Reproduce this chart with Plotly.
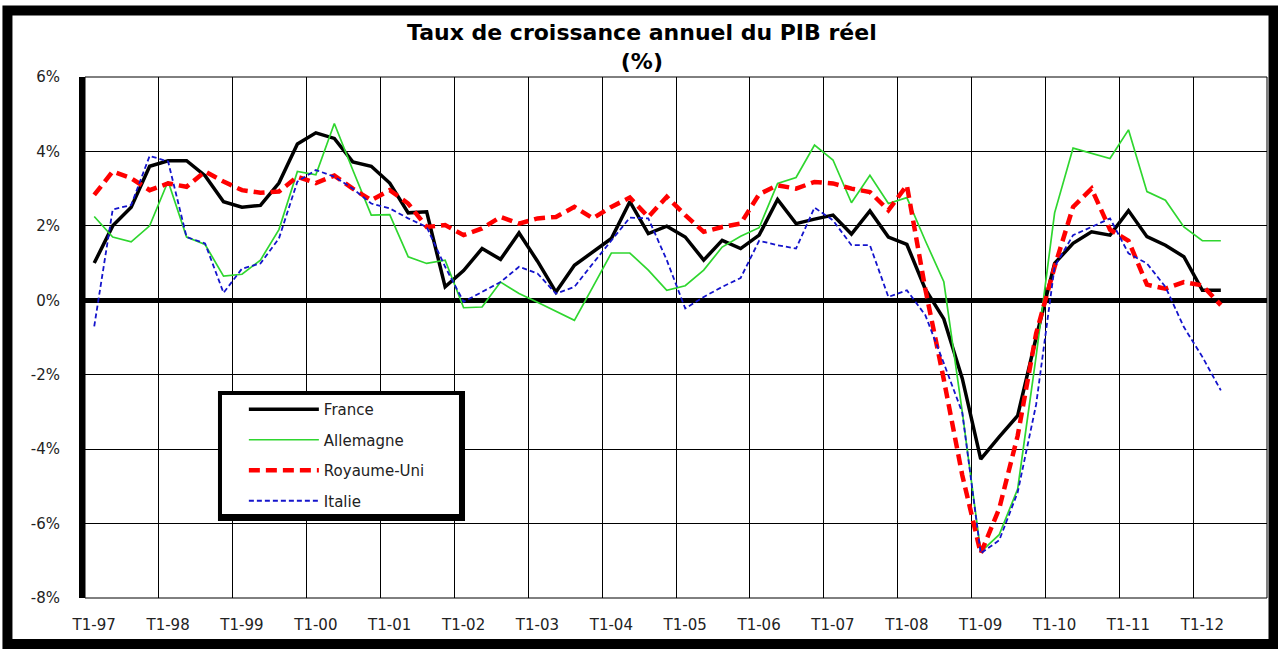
import plotly.graph_objects as go

# trimestres T1-97 ... T4-12 (l'axe va jusqu'a fin 2012)
annees = ['97', '98', '99', '00', '01', '02', '03', '04',
          '05', '06', '07', '08', '09', '10', '11', '12']
trimestres = ['T%d-%s' % (t, a) for a in annees for t in (1, 2, 3, 4)]
etiquettes_x = ['T1-' + a for a in annees]

# glissement annuel du PIB reel, en %
france = [1.0, 2.0, 2.5, 3.6, 3.75, 3.75, 3.35, 2.65, 2.5, 2.55, 3.15, 4.2,
          4.5, 4.35, 3.72, 3.6, 3.15, 2.35, 2.38, 0.36, 0.8, 1.39, 1.1, 1.81,
          1.05, 0.22, 0.94, 1.3, 1.66, 2.65, 1.79, 1.99, 1.7, 1.08, 1.61, 1.39,
          1.75, 2.71, 2.06, 2.18, 2.29, 1.78, 2.4, 1.7, 1.5, 0.3, -0.5, -2.1,
          -4.27, -3.67, -3.1, -1.0, 0.99, 1.53, 1.84, 1.75, 2.41, 1.71, 1.48, 1.17,
          0.27, 0.27]
allemagne = [2.25, 1.7, 1.57, 2.0, 3.2, 1.7, 1.5, 0.65, 0.7, 1.08, 1.9, 3.46,
             3.37, 4.75, 3.5, 2.29, 2.3, 1.17, 0.99, 1.08, -0.2, -0.18, 0.49, 0.18,
             -0.05, -0.29, -0.54, 0.36, 1.27, 1.27, 0.81, 0.27, 0.39, 0.81, 1.43, 1.72,
             1.95, 3.14, 3.3, 4.17, 3.77, 2.62, 3.36, 2.6, 2.76, 1.6, 0.5, -3.0,
             -6.76, -6.3, -5.07, -1.5, 2.35, 4.09, 3.95, 3.81, 4.58, 2.92, 2.69, 1.97,
             1.6, 1.6]
royaume_uni = [2.83, 3.46, 3.28, 2.96, 3.14, 3.05, 3.46, 3.19, 2.96, 2.89, 2.92, 3.32,
               3.15, 3.35, 3.0, 2.69, 2.96, 2.6, 1.97, 2.02, 1.75, 1.93, 2.24, 2.06,
               2.2, 2.24, 2.51, 2.2, 2.51, 2.76, 2.24, 2.78, 2.29, 1.84, 1.97, 2.06,
               2.85, 3.09, 3.0, 3.18, 3.14, 3.0, 2.91, 2.42, 3.09, 0.3, -2.13, -4.7,
               -6.8, -5.6, -3.64, -0.89, 0.9, 2.51, 3.0, 1.9, 1.6, 0.42, 0.31, 0.49,
               0.4, -0.13]
italie = [-0.7, 2.44, 2.56, 3.88, 3.73, 1.7, 1.53, 0.2, 0.85, 0.99, 1.66, 3.19,
          3.5, 3.32, 3.0, 2.6, 2.47, 2.2, 1.97, 0.9, -0.04, 0.22, 0.49, 0.9,
          0.72, 0.18, 0.36, 0.99, 1.61, 2.22, 2.2, 1.08, -0.22, 0.09, 0.36, 0.6,
          1.6, 1.48, 1.39, 2.49, 2.15, 1.48, 1.48, 0.09, 0.27, -0.4, -1.69, -3.02,
          -6.8, -6.45, -5.16, -2.8, 0.9, 1.75, 1.97, 2.2, 1.26, 0.99, 0.36, -0.72,
          -1.52, -2.42]

graduations_y = [-8, -6, -4, -2, 0, 2, 4, 6]
etiquettes_y = ['-8%', '-6%', '-4%', '-2%', '0%', '2%', '4%', '6%']

series = [
    ('France', france, dict(color='black', width=3.5)),
    ('Allemagne', allemagne, dict(color='#2fd62f', width=1.7)),
    ('Royaume-Uni', royaume_uni, dict(color='#ff0000', width=4.5, dash='11px,6px')),
    ('Italie', italie, dict(color='#1414cc', width=1.8, dash='5px,3px')),
]

fig = go.Figure()
for nom, valeurs, ligne in series:
    fig.add_scatter(
        x=list(range(len(valeurs))),
        y=valeurs,
        text=trimestres[:len(valeurs)],
        name=nom,
        legendgroup=nom,
        mode='lines',
        line=ligne,
        hovertemplate='%{text} : %{y:.1f}%<extra>' + nom + '</extra>',
    )

pos_t1 = [trimestres.index(e) for e in etiquettes_x]

fig.update_layout(
    width=1278,
    height=650,
    margin=dict(l=85, r=11, t=77, b=52),
    paper_bgcolor='white',
    plot_bgcolor='white',
    font=dict(family='DejaVu Sans', color='#222222'),
    showlegend=True,
    legend=dict(
        x=0.1344, y=0.3935, xanchor='left', yanchor='top',
        bgcolor='rgba(0,0,0,0)', borderwidth=0,
        font=dict(family='DejaVu Sans', size=15, color='#222222'),
        tracegroupgap=8, itemwidth=70,
    ),
    xaxis=dict(
        range=[-0.5, len(trimestres) - 0.5],
        tickmode='array', tickvals=pos_t1, ticktext=etiquettes_x,
        showgrid=False, zeroline=False, ticks='', ticklabelstandoff=16,
        tickfont=dict(family='DejaVu Sans', size=15, color='#222222'),
        minor=dict(tickmode='array', tickvals=[p - 0.5 for p in pos_t1[1:]],
                   showgrid=True, gridcolor='black', gridwidth=1, ticks=''),
        fixedrange=True,
    ),
    yaxis=dict(
        range=[-8, 6],
        tickmode='array', tickvals=graduations_y, ticktext=etiquettes_y,
        showgrid=True, gridcolor='black', gridwidth=1,
        zeroline=True, zerolinecolor='black', zerolinewidth=5,
        showline=True, linecolor='black', linewidth=6,
        ticks='', ticklabelstandoff=16,
        tickfont=dict(family='DejaVu Sans', size=15, color='#222222'),
        fixedrange=True,
    ),
    annotations=[
        dict(text='<b>Taux de croissance annuel du PIB réel<br>(%)</b>', xref='paper', yref='paper',
             x=0.4712, y=1.0585, xanchor='center', yanchor='middle', showarrow=False,
             font=dict(family='DejaVu Sans', size=22, color='black')),
    ],
    shapes=[
        # cadre fin de la zone de tracé
        dict(type='rect', xref='paper', yref='paper', x0=0, y0=0, x1=1, y1=1,
             line=dict(color='black', width=1), layer='below'),
        # cadre de la légende avec ombre
        dict(type='rect', xref='paper', yref='paper', x0=0.1125, y0=0.1478, x1=0.3215, y1=0.3973,
             line=dict(width=0), fillcolor='black', layer='above'),
        dict(type='rect', xref='paper', yref='paper', x0=0.1159, y0=0.1612, x1=0.3164, y1=0.3896,
             line=dict(width=0), fillcolor='white', layer='above'),
        # cadre noir autour de l'image
        dict(type='rect', xref='paper', yref='paper', x0=-0.0656, y0=-0.0883, x1=1.0055, y1=1.1276,
             line=dict(color='black', width=10), layer='above'),
    ],
)

fig.write_html("out.html", config={'displayModeBar': False},
               post_script="document.body.style.margin = '0px';")
